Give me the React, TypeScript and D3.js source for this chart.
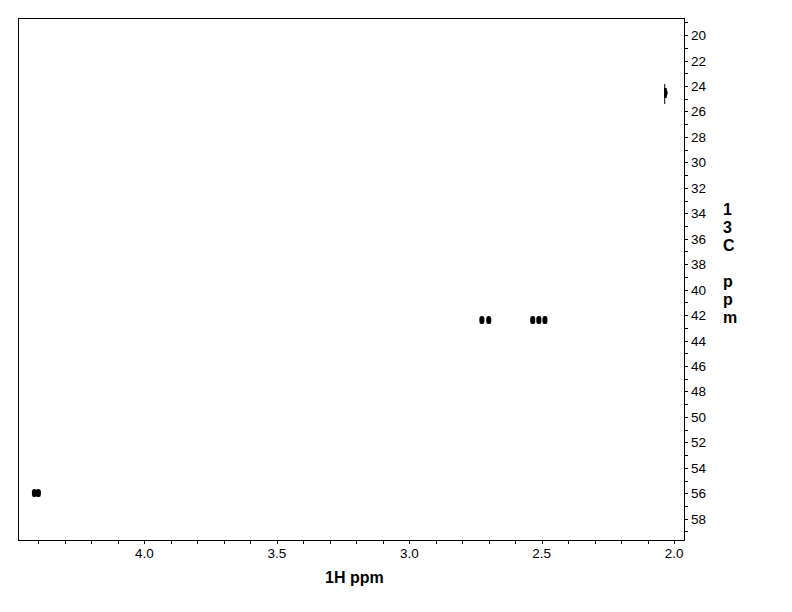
import React, { useEffect, useRef } from 'react';
import * as d3 from 'd3';

// cross peaks (1H shift, 13C shift)
const peakH = [4.415, 4.400, 2.726, 2.700, 2.534, 2.511, 2.488, 2.032];
const peakC = [55.97, 55.97, 42.38, 42.38, 42.38, 42.38, 42.38, 24.55];
// the 2.03 ppm peak is drawn as a truncated contour with a stem
const peakKind = ['dot', 'dot', 'dot', 'dot', 'dot', 'dot', 'dot', 'stem'];

const xMajorTicks = [4.0, 3.5, 3.0, 2.5, 2.0];
const yMajorTicks = d3.range(20, 59, 2);
const xLabel = '1H ppm';
const yLabelChars = ['1', '3', 'C', '', 'p', 'p', 'm'];

const W = 792;
const H = 612;

export default function App() {
  const svgRef = useRef<SVGSVGElement>(null);

  useEffect(() => {
    const svg = d3.select(svgRef.current);
    svg.selectAll('*').remove();

    const left = 18, right = 684, top = 18, bottom = 540;
    const x = d3.scaleLinear().domain([4.477, 1.963]).range([left, right]);
    const y = d3.scaleLinear().domain([18.66, 59.67]).range([top, bottom]);

    svg.append('rect')
      .attr('width', W).attr('height', H).attr('fill', '#fff');

    // frame
    svg.append('rect')
      .attr('x', left + 0.5).attr('y', top + 0.5)
      .attr('width', right - left).attr('height', bottom - top)
      .attr('fill', 'none').attr('stroke', '#000').attr('stroke-width', 1);

    const font = 'Liberation Sans, Arial, sans-serif';

    // x ticks
    const xMinor = d3.range(20, 45).map(v => v / 10);
    svg.append('g').selectAll('line')
      .data(xMinor)
      .enter().append('line')
      .attr('x1', d => Math.round(x(d)) + 0.5).attr('x2', d => Math.round(x(d)) + 0.5)
      .attr('y1', bottom).attr('y2', bottom + 4)
      .attr('stroke', '#000');

    svg.append('g').selectAll('text')
      .data(xMajorTicks)
      .enter().append('text')
      .attr('x', d => x(d))
      .attr('y', bottom + 18)
      .attr('text-anchor', 'middle')
      .style('font-family', font)
      .style('font-size', '13.5px')
      .text(d => d3.format('.1f')(d));

    // y ticks (right side)
    const yMinor = d3.range(19, 60);
    svg.append('g').selectAll('line')
      .data(yMinor)
      .enter().append('line')
      .attr('x1', right).attr('x2', right + 4)
      .attr('y1', d => Math.round(y(d)) + 0.5).attr('y2', d => Math.round(y(d)) + 0.5)
      .attr('stroke', '#000');

    svg.append('g').selectAll('text')
      .data(yMajorTicks)
      .enter().append('text')
      .attr('x', right + 7)
      .attr('y', d => y(d) + 5)
      .style('font-family', font)
      .style('font-size', '13.5px')
      .text(d => String(d));

    // axis titles
    svg.append('text')
      .attr('x', 325).attr('y', 583)
      .style('font-family', font)
      .style('font-size', '16px')
      .style('font-weight', 'bold')
      .text(xLabel);

    svg.append('g').selectAll('text')
      .data(yLabelChars)
      .enter().append('text')
      .attr('x', 723)
      .attr('y', (_, i) => 215 + i * 18)
      .style('font-family', font)
      .style('font-size', '16px')
      .style('font-weight', 'bold')
      .text(d => d);

    // peaks
    const peaks = peakH.map((h, i) => ({ h, c: peakC[i], kind: peakKind[i] }));
    const g = svg.append('g');
    peaks.filter(p => p.kind === 'dot').forEach(p => {
      g.append('rect')
        .attr('x', x(p.h) - 2.5).attr('y', y(p.c) - 4)
        .attr('width', 5).attr('height', 8)
        .attr('rx', 2).attr('ry', 2.5)
        .attr('fill', '#000');
    });
    peaks.filter(p => p.kind === 'stem').forEach(p => {
      const cx = x(p.h), cy = y(p.c);
      g.append('line')
        .attr('x1', cx - 1).attr('x2', cx - 1)
        .attr('y1', cy - 9).attr('y2', cy + 11)
        .attr('stroke', '#000').attr('stroke-width', 1);
      g.append('path')
        .attr('d', `M${cx - 1},${cy - 5} Q${cx + 5},${cy} ${cx - 1},${cy + 5} Z`)
        .attr('fill', '#000');
      g.append('rect')
        .attr('x', cx - 1.5).attr('y', cy - 5).attr('width', 2.5).attr('height', 10)
        .attr('fill', '#000');
    });
  }, []);

  return (
    <svg
      ref={svgRef}
      width={W}
      height={H}
      style={{ position: 'absolute', left: 0, top: 0, display: 'block' }}
    />
  );
}
